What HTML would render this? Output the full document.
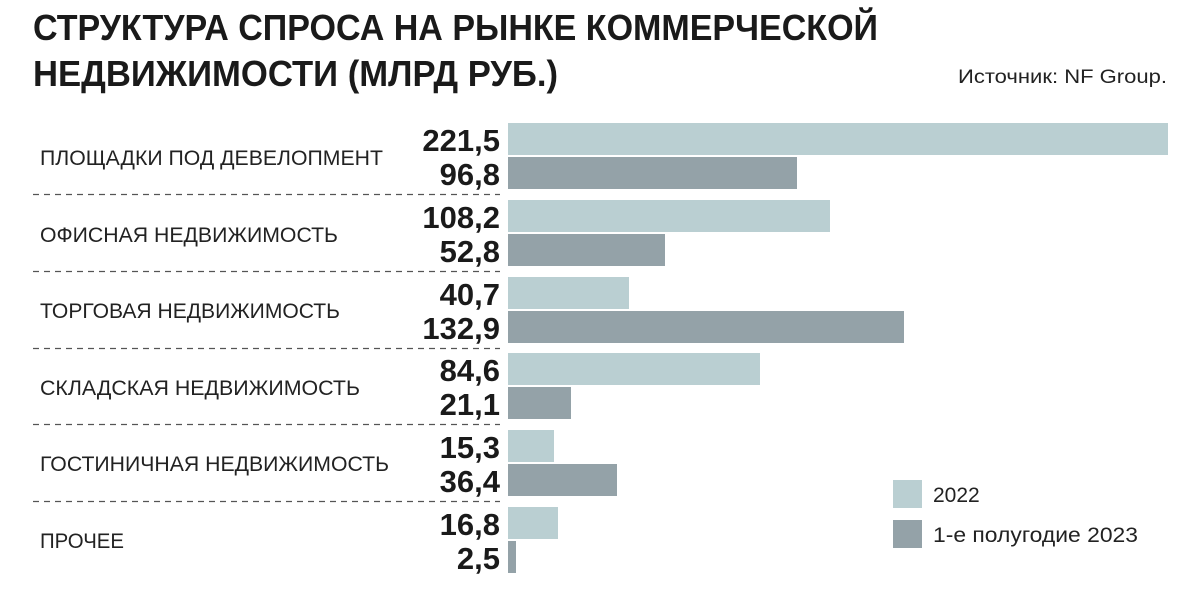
<!DOCTYPE html>
<html><head><meta charset="utf-8"><style>body{margin:0;background:#fff}svg{display:block}</style></head><body>
<svg width="1188" height="589" viewBox="0 0 1188 589" xmlns="http://www.w3.org/2000/svg" font-family="Liberation Sans, sans-serif">
<rect width="1188" height="589" fill="#fff"/>
<text x="33" y="40" font-size="36" font-weight="bold" fill="#1a1a1a" textLength="845" lengthAdjust="spacingAndGlyphs">СТРУКТУРА СПРОСА НА РЫНКЕ КОММЕРЧЕСКОЙ</text>
<text x="33" y="86" font-size="36" font-weight="bold" fill="#1a1a1a" textLength="525" lengthAdjust="spacingAndGlyphs">НЕДВИЖИМОСТИ (МЛРД РУБ.)</text>
<text x="1167" y="83" font-size="19" fill="#222" text-anchor="end" textLength="209" lengthAdjust="spacingAndGlyphs">Источник: NF Group.</text>
<g font-size="21" fill="#222">
<text x="40" y="165" textLength="343" lengthAdjust="spacingAndGlyphs">ПЛОЩАДКИ ПОД ДЕВЕЛОПМЕНТ</text>
<text x="40" y="242" textLength="298" lengthAdjust="spacingAndGlyphs">ОФИСНАЯ НЕДВИЖИМОСТЬ</text>
<text x="40" y="318" textLength="300" lengthAdjust="spacingAndGlyphs">ТОРГОВАЯ НЕДВИЖИМОСТЬ</text>
<text x="40" y="395" textLength="320" lengthAdjust="spacingAndGlyphs">СКЛАДСКАЯ НЕДВИЖИМОСТЬ</text>
<text x="40" y="471" textLength="349" lengthAdjust="spacingAndGlyphs">ГОСТИНИЧНАЯ НЕДВИЖИМОСТЬ</text>
<text x="40" y="548" textLength="84" lengthAdjust="spacingAndGlyphs">ПРОЧЕЕ</text>
</g>
<g stroke="#555" stroke-width="1.2" stroke-dasharray="6,5">
<line x1="33" x2="500" y1="194.5" y2="194.5"/>
<line x1="33" x2="500" y1="271.5" y2="271.5"/>
<line x1="33" x2="500" y1="348.5" y2="348.5"/>
<line x1="33" x2="500" y1="424.5" y2="424.5"/>
<line x1="33" x2="500" y1="501.5" y2="501.5"/>
</g>
<g fill="#bacfd2">
<rect x="508" y="123" width="660" height="32"/>
<rect x="508" y="200" width="322" height="32"/>
<rect x="508" y="277" width="121" height="32"/>
<rect x="508" y="353" width="252" height="32"/>
<rect x="508" y="430" width="46" height="32"/>
<rect x="508" y="507" width="50" height="32"/>
</g>
<g fill="#94a2a8">
<rect x="508" y="157" width="289" height="32"/>
<rect x="508" y="234" width="157" height="32"/>
<rect x="508" y="311" width="396" height="32"/>
<rect x="508" y="387" width="63" height="32"/>
<rect x="508" y="464" width="109" height="32"/>
<rect x="508" y="541" width="8" height="32"/>
</g>
<g font-size="31" font-weight="bold" fill="#1a1a1a" text-anchor="end">
<text x="500" y="151">221,5</text><text x="500" y="185">96,8</text>
<text x="500" y="228">108,2</text><text x="500" y="262">52,8</text>
<text x="500" y="305">40,7</text><text x="500" y="339">132,9</text>
<text x="500" y="381">84,6</text><text x="500" y="415">21,1</text>
<text x="500" y="458">15,3</text><text x="500" y="492">36,4</text>
<text x="500" y="535">16,8</text><text x="500" y="569">2,5</text>
</g>
<rect x="893" y="480" width="29" height="28" fill="#bacfd2"/>
<rect x="893" y="520" width="29" height="28" fill="#94a2a8"/>
<text x="933" y="502" font-size="21" fill="#222">2022</text>
<text x="933" y="542" font-size="21" fill="#222" textLength="205" lengthAdjust="spacingAndGlyphs">1-е полугодие 2023</text>
</svg>
</body></html>
